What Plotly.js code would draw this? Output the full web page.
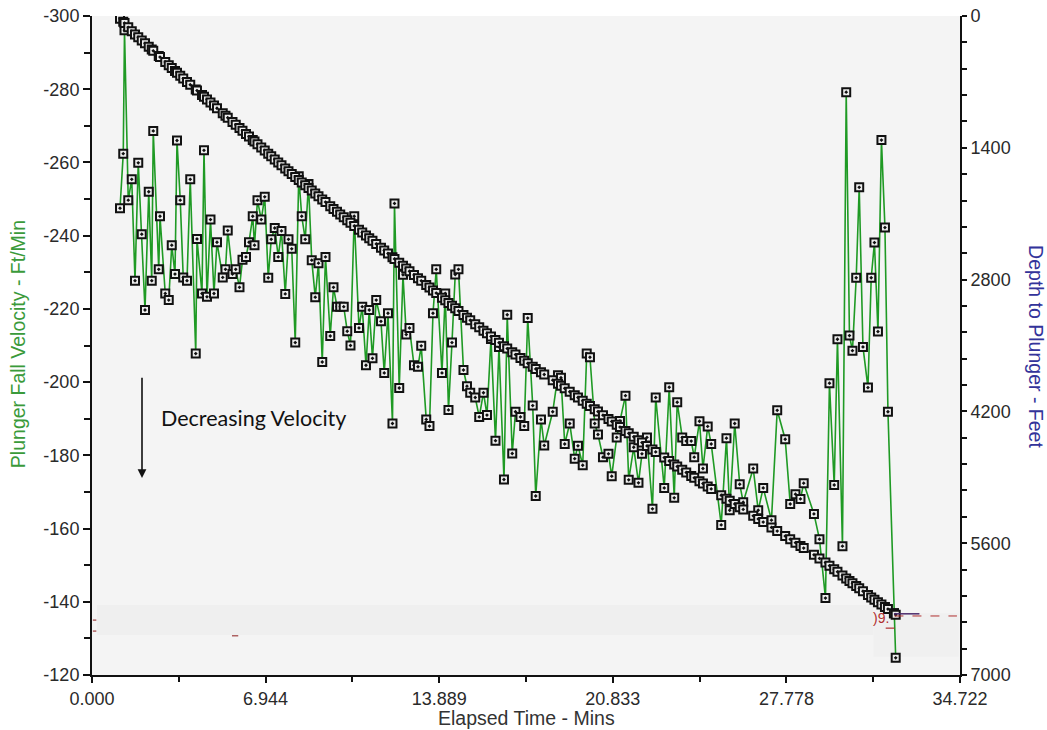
<!DOCTYPE html>
<html><head><meta charset="utf-8">
<script src="https://cdn.plot.ly/plotly-3.0.1.min.js"></script>
<style>html,body{margin:0;padding:0;background:#fff;}#chart{width:1047px;height:730px;}</style>
</head><body><div id="chart"></div>
<script>
// Elapsed time (minutes) of each sample
const timeMins = [
1.12,1.25,1.30,1.45,1.59,1.72,1.85,1.99,2.12,2.27,
2.39,2.45,2.67,2.72,2.93,3.07,3.19,3.32,3.40,3.53,
3.65,3.80,3.93,4.15,4.20,4.40,4.48,4.60,4.74,4.88,
5.00,5.23,5.34,5.43,5.62,5.75,5.90,6.02,6.16,6.28,
6.43,6.50,6.62,6.77,6.91,7.05,7.17,7.31,7.45,7.58,
7.73,7.86,7.99,8.13,8.27,8.39,8.53,8.66,8.79,8.93,
9.06,9.21,9.34,9.53,9.66,9.80,9.93,10.07,10.21,10.34,
10.49,10.68,10.81,10.96,11.09,11.22,11.37,11.56,11.69,11.84,
12.02,12.10,12.29,12.44,12.57,12.70,12.88,13.04,13.17,13.37,
13.50,13.64,13.77,14.00,14.13,14.26,14.40,14.53,14.66,14.86,
15.00,15.13,15.33,15.49,15.66,15.80,15.96,16.14,16.28,16.48,
16.61,16.81,16.94,17.14,17.29,17.43,17.63,17.75,17.96,18.09,
18.43,18.64,18.76,18.91,19.11,19.31,19.44,19.63,19.79,19.92,
20.11,20.24,20.44,20.66,20.79,20.99,21.12,21.34,21.47,21.67,
21.86,22.00,22.20,22.42,22.55,22.89,23.09,23.29,23.41,23.61,
23.77,23.97,24.09,24.30,24.44,24.63,24.77,25.17,25.38,25.51,
25.71,25.91,26.05,26.45,26.65,26.85,27.18,27.41,27.73,27.93,
28.14,28.34,28.47,28.88,29.10,29.34,29.50,29.69,29.82,30.02,
30.17,30.30,30.42,30.57,30.69,30.84,31.04,31.17,31.30,31.44,
31.58,31.72,31.84,32.08,32.15];

// Plunger fall velocity (ft/min), left axis
const velocity = [
-247.5,-262.4,-296.1,-249.7,-255.4,-227.7,-259.9,-240.4,-219.7,-252.0,
-227.7,-268.6,-230.8,-245.3,-224.2,-222.4,-237.4,-229.5,-266.0,-249.7,
-228.6,-227.7,-255.4,-207.8,-239.1,-224.2,-263.3,-223.3,-244.4,-224.2,
-238.2,-228.6,-230.8,-241.4,-229.5,-230.8,-225.9,-233.4,-234.2,-238.2,
-245.3,-237.4,-249.7,-244.4,-250.6,-228.5,-239.0,-242.1,-234.2,-241.3,
-224.1,-239.0,-236.4,-210.8,-256.2,-245.3,-239.0,-254.1,-233.3,-223.2,
-232.5,-205.5,-234.2,-212.6,-225.9,-220.6,-220.6,-220.6,-213.9,-210.0,
-245.3,-214.8,-220.6,-204.6,-219.7,-206.5,-222.4,-216.6,-202.5,-218.8,
-188.7,-248.8,-198.4,-229.3,-213.0,-214.8,-204.6,-204.2,-209.9,-189.8,
-188.0,-218.8,-230.8,-202.5,-224.2,-192.4,-210.8,-229.4,-230.8,-203.3,
-198.9,-197.1,-195.8,-190.5,-197.1,-191.0,-211.8,-184.0,-209.6,-173.4,
-218.4,-180.5,-191.9,-190.5,-188.0,-217.5,-193.6,-168.9,-189.8,-182.7,
-191.9,-201.9,-201.2,-183.1,-188.7,-179.1,-182.6,-177.3,-207.8,-206.8,
-188.7,-185.7,-179.5,-180.4,-174.3,-184.9,-189.4,-196.3,-173.3,-182.2,
-172.5,-180.4,-184.9,-165.4,-195.8,-171.1,-198.6,-168.4,-194.5,-184.9,
-183.9,-183.9,-179.5,-189.3,-176.4,-187.9,-183.1,-161.0,-184.7,-165.0,
-188.7,-172.1,-167.2,-176.4,-165.0,-171.1,-162.3,-192.3,-184.4,-166.7,
-169.4,-168.1,-172.4,-164.0,-157.1,-141.0,-199.7,-171.9,-211.7,-155.2,
-279.2,-212.7,-208.6,-228.5,-253.2,-209.6,-198.5,-228.5,-238.1,-213.8,
-266.1,-242.2,-191.9,-136.9,-124.7];

// Depth to plunger (feet), right axis
const depthFeet = [
30,62,75,120,162,196,227,260,290,326,
355,370,424,436,488,522,552,584,603,635,
665,700,730,781,792,839,858,886,919,952,
980,1034,1060,1081,1126,1156,1191,1220,1253,1281,
1316,1332,1361,1396,1429,1462,1490,1523,1556,1586,
1621,1650,1679,1710,1742,1768,1798,1826,1854,1885,
1914,1948,1977,2020,2050,2080,2108,2139,2169,2197,
2230,2271,2299,2331,2360,2388,2421,2462,2490,2523,
2562,2580,2621,2654,2682,2711,2750,2785,2813,2857,
2885,2916,2943,2992,3020,3048,3078,3105,3133,3176,
3205,3232,3273,3306,3342,3371,3404,3441,3470,3509,
3533,3571,3596,3634,3662,3689,3727,3749,3785,3808,
3868,3906,3928,3955,3991,4028,4052,4088,4118,4142,
4178,4202,4240,4281,4306,4343,4367,4408,4433,4470,
4506,4531,4567,4606,4630,4691,4727,4764,4785,4821,
4849,4885,4906,4943,4967,4999,5023,5091,5127,5149,
5183,5217,5241,5309,5342,5376,5432,5471,5524,5558,
5594,5629,5652,5724,5762,5806,5839,5877,5904,5944,
5975,6001,6025,6055,6079,6110,6150,6176,6200,6226,
6252,6278,6300,6345,6360];

const xTickVals = [0, 6.944, 13.889, 20.833, 27.778, 34.722];
const xTickText = ['0.000','6.944','13.889','20.833','27.778','34.722'];
const xMinorVals = [3.472, 10.417, 17.361, 24.306, 31.250];
const yTickVals = [-300,-280,-260,-240,-220,-200,-180,-160,-140,-120];
const yTickText = ['-300','-280','-260','-240','-220','-200','-180','-160','-140','-120'];
const y2TickVals = [0,1400,2800,4200,5600,7000];
const y2TickText = ['0','1400','2800','4200','5600','7000'];

const xTitle = 'Elapsed Time - Mins';
const yTitle = 'Plunger Fall Velocity - Ft/Min';
const y2Title = 'Depth to Plunger - Feet';
const noteText = 'Decreasing Velocity';

const markerStyle = {symbol:'square-dot', size:8, color:'#eeeeee', line:{color:'#111', width:2}};

const depthTrace = {
  x: timeMins, y: depthFeet, yaxis:'y2', type:'scatter', mode:'lines+markers',
  line:{color:'#111', width:1}, marker: markerStyle, hoverinfo:'x+y'
};
const velTrace = {
  x: timeMins, y: velocity, type:'scatter', mode:'lines+markers',
  line:{color:'#1f9a24', width:1.6}, marker: markerStyle, hoverinfo:'x+y'
};

const axisCommon = {
  showgrid:false, zeroline:false, showline:true, linecolor:'#111', linewidth:2,
  ticks:'outside', tickcolor:'#111', tickwidth:2, ticklen:7,
  tickfont:{family:'Liberation Sans, Arial, sans-serif', size:18, color:'#2a2a2a'}
};

const layout = {
  width:1047, height:730,
  margin:{l:92, r:87, t:16, b:55},
  paper_bgcolor:'#ffffff', plot_bgcolor:'#f4f4f4',
  showlegend:false,
  font:{family:'Liberation Sans, Arial, sans-serif', size:18, color:'#2a2a2a'},
  xaxis: Object.assign({}, axisCommon, {
    range:[0, 34.722], tickmode:'array', tickvals:xTickVals, ticktext:xTickText, ticklen:6,
    minor:{tickmode:'array', tickvals:xMinorVals, ticks:'outside', ticklen:5, tickwidth:2, tickcolor:'#111'}
  }),
  yaxis: Object.assign({}, axisCommon, {
    range:[-120, -300], tickmode:'array', tickvals:yTickVals, ticktext:yTickText,
    minor:{dtick:10, tick0:0, ticks:'outside', ticklen:6, tickwidth:2, tickcolor:'#111'}
  }),
  yaxis2: Object.assign({}, axisCommon, {
    overlaying:'y', side:'right', range:[7000, 0], tickmode:'array', tickvals:y2TickVals, ticktext:y2TickText, ticklen:5,
    minor:{dtick:280, tick0:0, ticks:'outside', ticklen:5, tickwidth:2, tickcolor:'#111'}
  }),
  shapes:[
    {type:'rect', xref:'x', yref:'y', x0:0.2, x1:31.26, y0:-139.1, y1:-130.9, fillcolor:'#efefef', line:{width:0}, layer:'below'},
    {type:'rect', xref:'x', yref:'y', x0:31.26, x1:34.67, y0:-136.9, y1:-125.0, fillcolor:'#f0f0f0', line:{width:0}, layer:'below'},
    {type:'line', xref:'x', yref:'y2', x0:32.1, x1:34.6, y0:6373, y1:6373, line:{color:'#b03030', width:1, dash:'dash'}},
    {type:'line', xref:'x', yref:'y2', x0:32.08, x1:33.1, y0:6350, y1:6350, line:{color:'#4b2a6b', width:1.5}},
    {type:'line', xref:'x', yref:'y', x0:31.75, x1:32.1, y0:-132.8, y1:-132.8, line:{color:'#b03030', width:1.2, dash:'dash'}},
    {type:'line', xref:'x', yref:'y', x0:5.6, x1:5.85, y0:-130.7, y1:-130.7, line:{color:'#8b1a1a', width:1}},
    {type:'line', xref:'paper', yref:'y', x0:0.001, x1:0.005, y0:-135.0, y1:-135.0, line:{color:'#8b1a1a', width:1}},
    {type:'line', xref:'paper', yref:'y', x0:0.001, x1:0.005, y0:-132.0, y1:-132.0, line:{color:'#8b1a1a', width:1}}
  ],
  annotations:[
    {text:xTitle, xref:'paper', yref:'paper', x:0.5, y:-0.0653, xanchor:'center', yanchor:'middle', showarrow:false,
     font:{family:'Liberation Sans, Arial, sans-serif', size:19.5, color:'#333333'}},
    {text:yTitle, xref:'paper', yref:'paper', x:-0.0853, y:0.502, xanchor:'center', yanchor:'middle', textangle:-90, showarrow:false,
     font:{family:'Liberation Sans, Arial, sans-serif', size:19.5, color:'#3a9a3a'}},
    {text:y2Title, xref:'paper', yref:'paper', x:1.0876, y:0.499, xanchor:'center', yanchor:'middle', textangle:90, showarrow:false,
     font:{family:'Liberation Sans, Arial, sans-serif', size:19.5, color:'#33339a'}},
    {text:noteText, xref:'x', yref:'y', x:2.66, y:-190.2, xanchor:'left', yanchor:'middle', showarrow:false,
     font:{family:'Lato, Open Sans, sans-serif', size:21.5, color:'#111111'}},
    {text:'', xref:'x', yref:'y', x:2.0, y:-173.8, axref:'x', ayref:'y', ax:2.0, ay:-201.6, showarrow:true,
     arrowhead:2, arrowsize:1.1, arrowwidth:1.6, arrowcolor:'#111111'},
    {text:')9.', xref:'x', yref:'y2', x:31.95, y:6390, xanchor:'right', yanchor:'middle', showarrow:false,
     font:{family:'Liberation Sans, Arial, sans-serif', size:14, color:'#b03030'}}
  ]
};

Plotly.newPlot('chart', [depthTrace, velTrace], layout, {displayModeBar:false, staticPlot:true});
</script>
</body></html>
